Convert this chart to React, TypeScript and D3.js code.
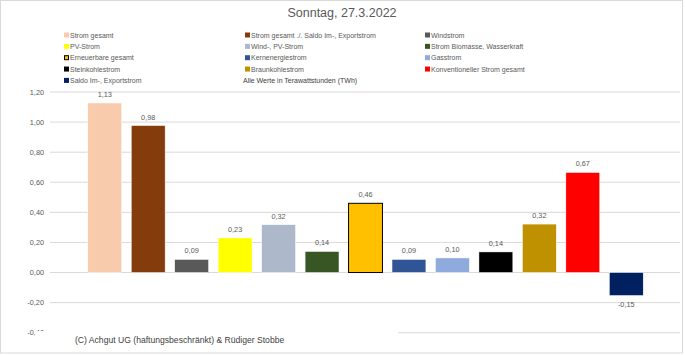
import React from "react";
import * as d3 from "d3";

const title = "Sonntag, 27.3.2022";
const categories = [
  "Strom gesamt",
  "Strom gesamt ./. Saldo Im-, Exportstrom",
  "Windstrom",
  "PV-Strom",
  "Wind-, PV-Strom",
  "Strom Biomasse, Wasserkraft",
  "Erneuerbare gesamt",
  "Kernenergiestrom",
  "Gasstrom",
  "Steinkohlestrom",
  "Braunkohlestrom",
  "Konventioneller Strom gesamt",
  "Saldo Im-, Exportstrom",
];
const values = [1.127, 0.977, 0.087, 0.23, 0.318, 0.14, 0.46, 0.087, 0.097, 0.137, 0.322, 0.665, -0.153];
const colors = [
  "#F8CBAD", "#843C0C", "#595959", "#FFFF00", "#ADB9CA", "#375623", "#FFC000",
  "#2F5597", "#8FAADC", "#000000", "#BF9000", "#FF0000", "#002060",
];
const outlined = [false, false, false, false, false, false, true, false, false, false, false, false, false];
const yTicks = [-0.4, -0.2, 0, 0.2, 0.4, 0.6, 0.8, 1.0, 1.2];
const unitNote = "Alle Werte in Terawattstunden (TWh)";
const footer = "(C) Achgut UG (haftungsbeschränkt) & Rüdiger Stobbe";

const W = 685;
const H = 355;
const font = "'Liberation Sans', Arial, sans-serif";
const fmt = (v: number) => v.toFixed(2).replace(".", ",");

export default function App() {
  const y = d3.scaleLinear().domain([-0.4, 1.2]).range([332.7, 92]);
  const x = d3
    .scaleBand<string>()
    .domain(categories)
    .range([83, 648])
    .paddingInner(0.22)
    .paddingOuter(0.11);

  const legendCols = [64, 245, 425];
  const legendRow = (i: number) => 35 + i * 11.35;

  return (
    <svg
      width={W}
      height={H}
      style={{ position: "absolute", left: 0, top: 0, display: "block" }}
      fontFamily={font}
    >
      <rect x={0} y={0} width={W} height={H} fill="#fff" />
      <rect x={0.5} y={0.5} width={682} height={352.5} fill="none" stroke="#d9d9d9" strokeWidth={1} />
      <text x={342} y={17} textAnchor="middle" fontSize={12.5} fill="#595959">
        {title}
      </text>

      {/* legend */}
      {categories.map((c, i) => {
        const col = i % 3;
        const row = Math.floor(i / 3);
        const lx = legendCols[col];
        const ly = legendRow(row);
        return (
          <g key={c}>
            <rect
              x={lx}
              y={ly - 2.5}
              width={outlined[i] ? 4 : 5}
              height={outlined[i] ? 4 : 5}
              transform={outlined[i] ? "translate(0.5,0.5)" : undefined}
              fill={colors[i]}
              stroke={outlined[i] ? "#000" : "none"}
              strokeWidth={outlined[i] ? 1 : 0}
            />
            <text x={lx + 6} y={ly + 2.5} fontSize={7} fill="#595959">
              {c}
            </text>
          </g>
        );
      })}
      <text x={243} y={legendRow(4) + 2.5} fontSize={7} fill="#404040">
        {unitNote}
      </text>

      {/* gridlines */}
      {yTicks.map((t) => (
        <g key={t}>
          <line x1={50} x2={680} y1={y(t)} y2={y(t)} stroke="#d9d9d9" strokeWidth={1} />
          <text x={44} y={y(t) + 2.5} textAnchor="end" fontSize={7.3} fill="#595959">
            {fmt(t)}
          </text>
        </g>
      ))}

      {/* bars */}
      {categories.map((c, i) => {
        const v = values[i];
        const bx = x(c)!;
        const top = y(Math.max(0, v));
        const bot = y(Math.min(0, v));
        return (
          <g key={c}>
            <rect
              x={bx}
              y={top}
              width={x.bandwidth()}
              height={bot - top}
              fill={colors[i]}
              stroke={outlined[i] ? "#000" : "#fff"}
              strokeWidth={outlined[i] ? 1 : 0.5}
            />
            <text
              x={bx + x.bandwidth() / 2}
              y={v >= 0 ? top - 6 : bot + 11}
              textAnchor="middle"
              fontSize={7.3}
              fill="#595959"
            >
              {fmt(v)}
            </text>
          </g>
        );
      })}

      {/* footer box covering lower area */}
      <rect x={35} y={331} width={363} height={21} fill="#fff" />
      <text x={75} y={343} fontSize={8.6} fill="#404040">
        {footer}
      </text>
    </svg>
  );
}
